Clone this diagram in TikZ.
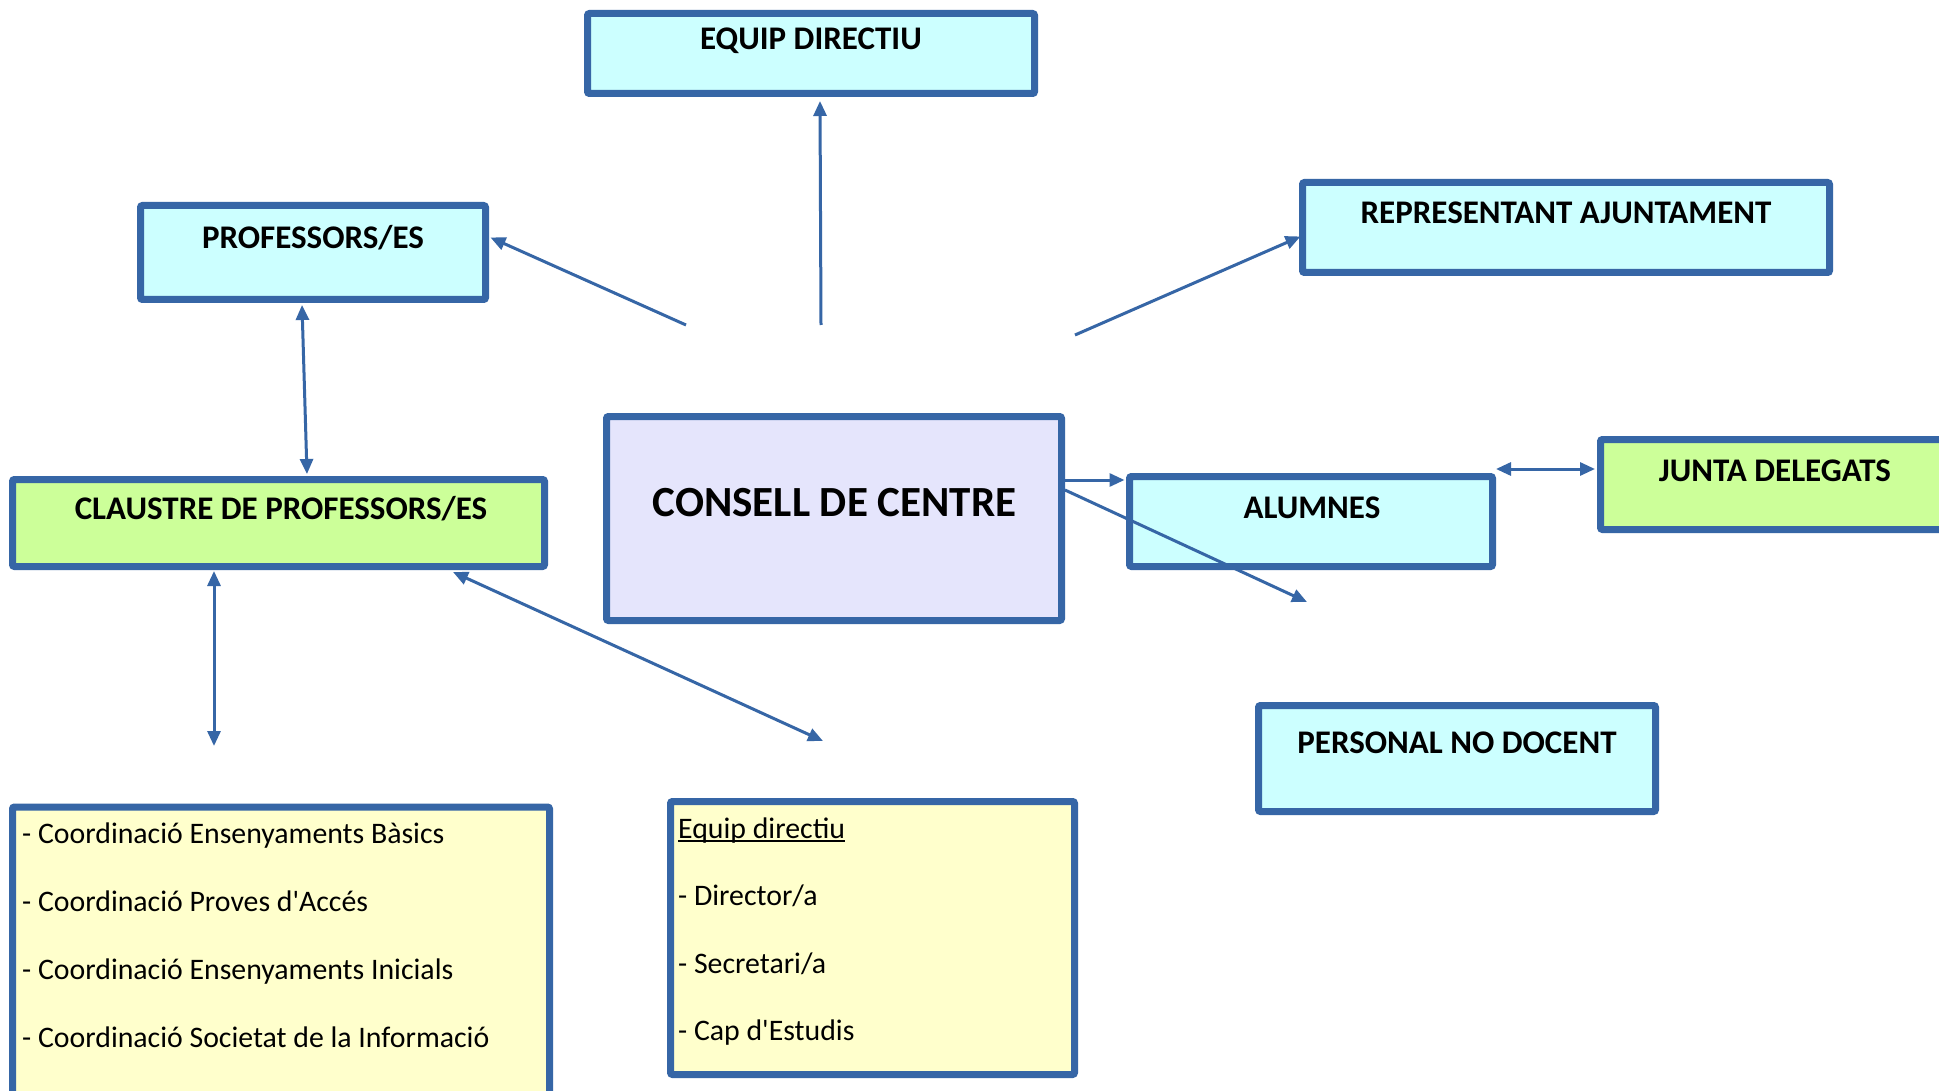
\documentclass[tikz,border=0pt]{standalone}
\usepackage{fontspec}
\setmainfont{Carlito}
\usetikzlibrary{arrows.meta,calc}
\definecolor{bord}{RGB}{54,102,166}
\definecolor{cyanf}{RGB}{204,255,255}
\definecolor{greenf}{RGB}{204,255,153}
\definecolor{lavf}{RGB}{229,229,252}
\definecolor{yelf}{RGB}{255,255,204}
\tikzset{
  box/.style={draw=bord, line width=7pt, rounded corners=2pt, inner sep=0pt, rectangle},
  head/.style={anchor=base, inner sep=0pt, font=\fontsize{33}{39}\selectfont\bfseries},
  body/.style={anchor=base west, inner sep=0pt, font=\fontsize{29.8}{35}\selectfont},
  conn/.style={draw=bord, line width=3pt},
  tip/.style={-{Triangle[length=15pt,width=13pt]}},
  tips/.style={{Triangle[length=15pt,width=13pt]}-{Triangle[length=15pt,width=13pt]}}
}
\begin{document}
\begin{tikzpicture}[x=1pt,y=-1pt]
\clip (0,0) rectangle (1939,1091);
\fill[white] (0,0) rectangle (1939,1091);
% boxes
\node[box, fill=cyanf, minimum width=447pt, minimum height=80pt] (edir) at (811,53.5) {};
\node[box, fill=cyanf, minimum width=345pt, minimum height=94pt] (prof) at (313,252.5) {};
\node[box, fill=cyanf, minimum width=527pt, minimum height=90pt] (repr) at (1566,227.5) {};
\node[box, fill=lavf, minimum width=455pt, minimum height=204pt] (cons) at (834,518.5) {};
\node[box, fill=greenf, minimum width=532pt, minimum height=87pt] (claus) at (278.5,523) {};
\node[box, fill=cyanf, minimum width=363pt, minimum height=90pt] (alum) at (1311,521.5) {};
\node[box, fill=greenf, minimum width=351pt, minimum height=90pt] (junta) at (1776,484.5) {};
\node[box, fill=cyanf, minimum width=397pt, minimum height=106pt] (pers) at (1457,758.5) {};
\node[box, fill=yelf, minimum width=537pt, minimum height=310pt] (coord) at (281,962) {};
\node[box, fill=yelf, minimum width=404pt, minimum height=273pt] (eqbox) at (872.5,938) {};
% headings
\node[head] (tedir) at (811,50) {EQUIP DIRECTIU};
\node[head] (tprof) at (313,249) {PROFESSORS/ES};
\node[head] (trepr) at (1566,224) {REPRESENTANT AJUNTAMENT};
\node[anchor=base, inner sep=0pt, font=\fontsize{43}{50}\selectfont\bfseries] (tcons) at (834.5,516) {CONSELL DE CENTRE};
\node[head] (tclaus) at (281,519) {CLAUSTRE DE PROFESSORS/ES};
\node[head] (talum) at (1312,518) {ALUMNES};
\node[head] (tjunta) at (1775,481) {JUNTA DELEGATS};
\node[head] (tpers) at (1457,753) {PERSONAL NO DOCENT};
% body texts
\node[body] (l1) at (22,843) {- Coordinació Ensenyaments Bàsics};
\node[body] (l2) at (22,911) {- Coordinació Proves d\textquotesingle Accés};
\node[body] (l3) at (22,979) {- Coordinació Ensenyaments Inicials};
\node[body] (l4) at (22,1047) {- Coordinació Societat de la Informació};
\node[body] (m0) at (678,838) {Equip directiu};
\draw[line width=2pt] ($(m0.base west)+(0,3)$) -- ($(m0.base east)+(0,3)$);
\node[body] (m1) at (678,905) {- Director/a};
\node[body] (m2) at (678,973) {- Secretari/a};
\node[body] (m3) at (678,1040) {- Cap d\textquotesingle Estudis};
% free ends
\coordinate (cup) at (821,325);
\coordinate (cprof) at (686,325);
\coordinate (crepr) at (1075,335);
\coordinate (cpers) at (1307,602);
\coordinate (cdown) at (214,746);
\coordinate (ceq) at (823,741);
% connectors
\draw[conn, tip] (cup) -- ($(cup |- edir.south)+(-1,4)$);
\draw[conn, tip] (cprof) -- ($(prof.east)+(1.5,-15)$);
\draw[conn, tip] (crepr) -- ($(repr.west)+(1.5,9)$);
\draw[conn, tips] ($(prof.south)+(-11,2)$) -- ($(claus.north)+(28.5,-2)$);
\draw[conn, tip] ($(cons.east)+(0,-38.5)$) -- ($(alum.west)+(-1.5,-41.5)$);
\draw[conn, tip] ($(cons.east)+(0,-28.5)$) -- (cpers);
\draw[conn, tips] ($(alum.north east)+(0,-4)$) -- ($(junta.west)+(-2,-15.5)$);
\draw[conn, tips] ($(claus.south)+(-64.5,1)$) -- (cdown);
\draw[conn, tips] ($(claus.south east)+(-95,2)$) -- (ceq);
\end{tikzpicture}
\end{document}
